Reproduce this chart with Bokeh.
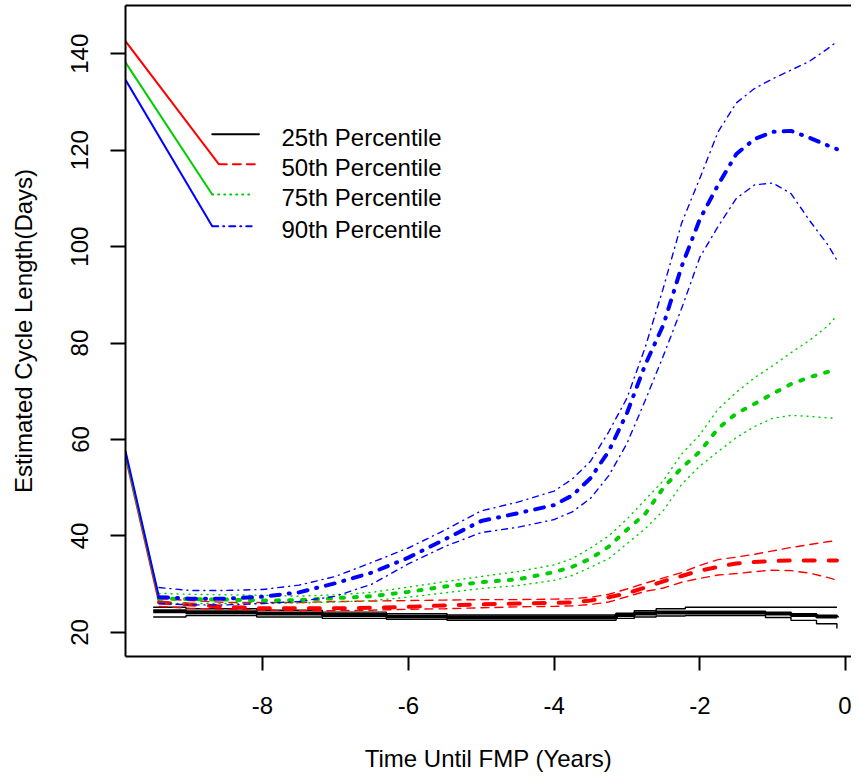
from bokeh.plotting import figure
from bokeh.models import LinearAxis, SingleIntervalTicker, FixedTicker, Range1d, PrintfTickFormatter
from bokeh.core.properties import value
from bokeh.embed import file_html
from bokeh.resources import INLINE

# ---------------- data ----------------
years = [-9.42, -9.0, -8.5, -8.0, -7.5, -7.0, -6.5, -6.0, -5.5, -5.0, -4.5, -4.0,
         -3.75, -3.5, -3.25, -3.0, -2.75, -2.5, -2.25, -2.0, -1.75, -1.5, -1.25,
         -1.0, -0.75, -0.5, -0.25, -0.12]

p90_mid = [27.3, 27.0, 27.0, 27.4, 28.3, 30.2, 32.4, 35.5, 39.3, 43.1, 44.7, 46.4,
           48.4, 52.0, 57.6, 65.5, 75.5, 83.8, 95.9, 105.7, 112.8, 119.2, 122.3,
           123.8, 124.0, 122.6, 121.0, 120.2]
p90_hi = [29.3, 28.7, 28.7, 28.9, 29.8, 31.6, 34.5, 37.5, 41.2, 45.2, 47.0, 49.3,
          51.8, 55.5, 61.6, 68.6, 79.1, 91.5, 104.9, 114.2, 123.8, 129.8, 132.8,
          134.8, 136.6, 138.4, 141.0, 142.5]
p90_lo = [26.0, 25.7, 25.7, 26.0, 26.4, 27.5, 30.0, 34.2, 37.8, 40.7, 41.8, 43.4,
          45.0, 47.8, 52.5, 59.2, 68.1, 77.4, 87.2, 97.8, 104.2, 110.0, 112.8,
          113.2, 111.0, 105.5, 100.5, 97.2]

p75_mid = [27.0, 26.9, 26.8, 26.6, 26.7, 27.1, 27.5, 28.4, 29.5, 30.4, 31.0, 32.5,
           33.6, 35.3, 37.8, 41.3, 44.6, 50.0, 54.1, 57.5, 62.3, 65.4, 67.4,
           69.5, 71.5, 72.9, 74.0, 74.5]
p75_hi = [28.1, 27.9, 27.8, 27.7, 27.5, 27.8, 28.3, 29.4, 30.5, 31.6, 32.6, 34.0,
          35.3, 37.5, 40.0, 43.5, 47.5, 51.5, 57.0, 61.0, 66.3, 69.8, 72.8,
          75.3, 78.0, 80.5, 83.5, 85.7]
p75_lo = [26.0, 26.0, 26.0, 26.0, 26.1, 26.3, 26.6, 27.3, 28.2, 29.1, 29.7, 30.8,
          31.8, 33.5, 35.3, 38.4, 41.5, 45.3, 50.7, 54.5, 57.5, 60.4, 62.7,
          64.4, 65.0, 64.8, 64.5, 64.4]

p50_mid = [26.2, 25.8, 25.3, 25.0, 25.0, 25.0, 25.1, 25.3, 25.6, 25.8, 26.0, 26.1,
           26.2, 26.6, 27.3, 28.1, 29.3, 30.6, 31.7, 32.8, 33.6, 34.3, 34.6,
           34.8, 34.9, 34.9, 34.9, 34.9]
p50_hi = [27.0, 26.6, 26.2, 26.2, 26.2, 26.4, 26.5, 26.6, 26.7, 26.8, 26.8, 26.9,
          27.0, 27.3, 27.9, 29.0, 30.2, 31.3, 32.4, 33.9, 35.1, 35.6, 36.2,
          36.9, 37.6, 38.2, 38.8, 39.0]
p50_lo = [25.4, 25.0, 24.8, 24.6, 24.5, 24.5, 24.6, 24.8, 24.9, 25.1, 25.3, 25.4,
          25.5, 25.8, 26.3, 27.4, 28.5, 29.2, 30.4, 31.2, 31.9, 32.2, 32.6,
          32.9, 32.8, 32.3, 31.4, 30.8]

# 25th percentile: step estimates
p25_steps = [-9.5, -9.05, -8.08, -7.18, -6.3, -5.47, -3.15, -2.9, -2.6, -2.2,
             -1.3, -1.1, -0.75, -0.4, -0.12]
p25_hi = [25.2, 24.9, 24.6, 24.2, 23.9, 23.6, 24.0, 24.5, 24.9, 25.2,
          25.2, 25.2, 25.2, 25.2, 25.2]
p25_mid = [24.4, 24.2, 23.9, 23.6, 23.3, 23.1, 23.6, 23.9, 24.1, 24.1,
           24.1, 23.9, 23.6, 23.3, 23.1]
p25_lo = [23.2, 23.5, 23.2, 22.9, 22.7, 22.5, 22.9, 23.2, 23.4, 23.5,
          23.5, 23.1, 22.5, 21.8, 20.8]

# steep initial segments (first estimate to first smoothed value)
start_x = [-9.88, -9.42]
start_p50 = [56.5, 26.2]
start_p75 = [57.0, 27.0]
start_p90 = [57.6, 27.3]

# legend
legend_labels = ["25th Percentile", "50th Percentile", "75th Percentile", "90th Percentile"]
legend_line_y = [123.3, 117.1, 110.8, 104.2]
legend_text_y = [122.6, 116.4, 110.1, 103.6]
legend_text_x = -7.74
legend_seg_x0 = [-8.69, -8.60, -8.69, -8.69]
legend_seg_x1 = [-8.05, -8.05, -8.12, -8.15]
legend_diag_x0 = -9.88
legend_diag_y0 = [None, 142.6, 138.2, 134.6]

RED = "#FF0000"
GREEN = "#00CD00"
BLUE = "#0000FF"
BLACK = "#000000"
FONT = "Liberation Sans"

p = figure(width=851, height=774,
           x_range=Range1d(-9.88, 0.08), y_range=Range1d(15.0, 150.0),
           output_backend="svg", toolbar_location=None,
           min_border_left=125, min_border_right=0,
           min_border_top=5, min_border_bottom=118)
p.grid.visible = False
p.outline_line_color = None
p.background_fill_color = "white"
p.border_fill_color = "white"

# axes
xa = p.xaxis[0]
xa.ticker = SingleIntervalTicker(interval=2, num_minor_ticks=0)
ya = p.yaxis[0]
ya.ticker = SingleIntervalTicker(interval=20, num_minor_ticks=0)
for ax in (xa, ya):
    ax.formatter = PrintfTickFormatter(format="%d")
    ax.axis_line_width = 2
    ax.axis_line_color = BLACK
    ax.major_tick_line_width = 2
    ax.major_tick_line_color = BLACK
    ax.major_tick_in = 0
    ax.minor_tick_in = 0
    ax.minor_tick_out = 0
    ax.major_label_text_font = FONT
    ax.major_label_text_font_size = "24px"
    ax.major_label_text_color = BLACK
    ax.axis_label_text_font = FONT
    ax.axis_label_text_font_size = "24px"
    ax.axis_label_text_font_style = "normal"
    ax.axis_label_text_color = BLACK
xa.major_tick_out = 14
xa.major_label_standoff = 26
xa.axis_label = "Time Until FMP (Years)"
xa.axis_label_standoff = 28
ya.major_tick_out = 15
ya.major_label_orientation = "vertical"
ya.major_label_standoff = 22
ya.axis_label = "Estimated Cycle Length(Days)"
ya.axis_label_standoff = 32

top = LinearAxis(ticker=FixedTicker(ticks=[]), major_tick_out=0, major_tick_in=0,
                 minor_tick_out=0, minor_tick_in=0, major_label_text_font_size="0px",
                 major_label_standoff=0, axis_line_width=2, axis_line_color=BLACK)
p.add_layout(top, "above")

# 25th percentile (black, solid, steps)
p.step(p25_steps, p25_hi, mode="after", line_color=BLACK, line_width=1.4)
p.step(p25_steps, p25_lo, mode="after", line_color=BLACK, line_width=1.4)
p.step(p25_steps, p25_mid, mode="after", line_color=BLACK, line_width=4)

# 50th percentile (red, dashed)
p.line(start_x, start_p50, line_color=RED, line_width=2)
p.line(years, p50_hi, line_color=RED, line_width=1.4, line_dash="8 6", line_cap="round")
p.line(years, p50_lo, line_color=RED, line_width=1.4, line_dash="8 6", line_cap="round")
p.line(years, p50_mid, line_color=RED, line_width=4, line_dash="11 14", line_cap="round")

# 75th percentile (green, dotted)
p.line(start_x, start_p75, line_color=GREEN, line_width=2)
p.line(years, p75_hi, line_color=GREEN, line_width=1.4, line_dash="1 5", line_cap="round")
p.line(years, p75_lo, line_color=GREEN, line_width=1.4, line_dash="1 5", line_cap="round")
p.line(years, p75_mid, line_color=GREEN, line_width=4, line_dash="3 10", line_cap="round")

# 90th percentile (blue, dot-dash)
p.line(start_x, start_p90, line_color=BLUE, line_width=2)
p.line(years, p90_hi, line_color=BLUE, line_width=1.4, line_dash="6 5 1 5", line_cap="round")
p.line(years, p90_lo, line_color=BLUE, line_width=1.4, line_dash="6 5 1 5", line_cap="round")
p.line(years, p90_mid, line_color=BLUE, line_width=4, line_dash="9 9 1 9", line_cap="round")

# legend (drawn in data space, as in the original)
colors = [BLACK, RED, GREEN, BLUE]
dashes = ["solid", "8 6", "1 5", "6 5 1 5"]
for i in range(4):
    if legend_diag_y0[i] is not None:
        p.line([legend_diag_x0, legend_seg_x0[i]], [legend_diag_y0[i], legend_line_y[i]],
               line_color=colors[i], line_width=2)
    p.line([legend_seg_x0[i], legend_seg_x1[i]], [legend_line_y[i], legend_line_y[i]],
           line_color=colors[i], line_width=2, line_dash=dashes[i], line_cap="round")
p.text(x=[legend_text_x] * 4, y=legend_text_y, text=legend_labels,
       text_font=value(FONT), text_font_size="24px", text_color=BLACK,
       text_baseline="middle", text_align="left")

open("out.html", "w").write(file_html(p, INLINE))
